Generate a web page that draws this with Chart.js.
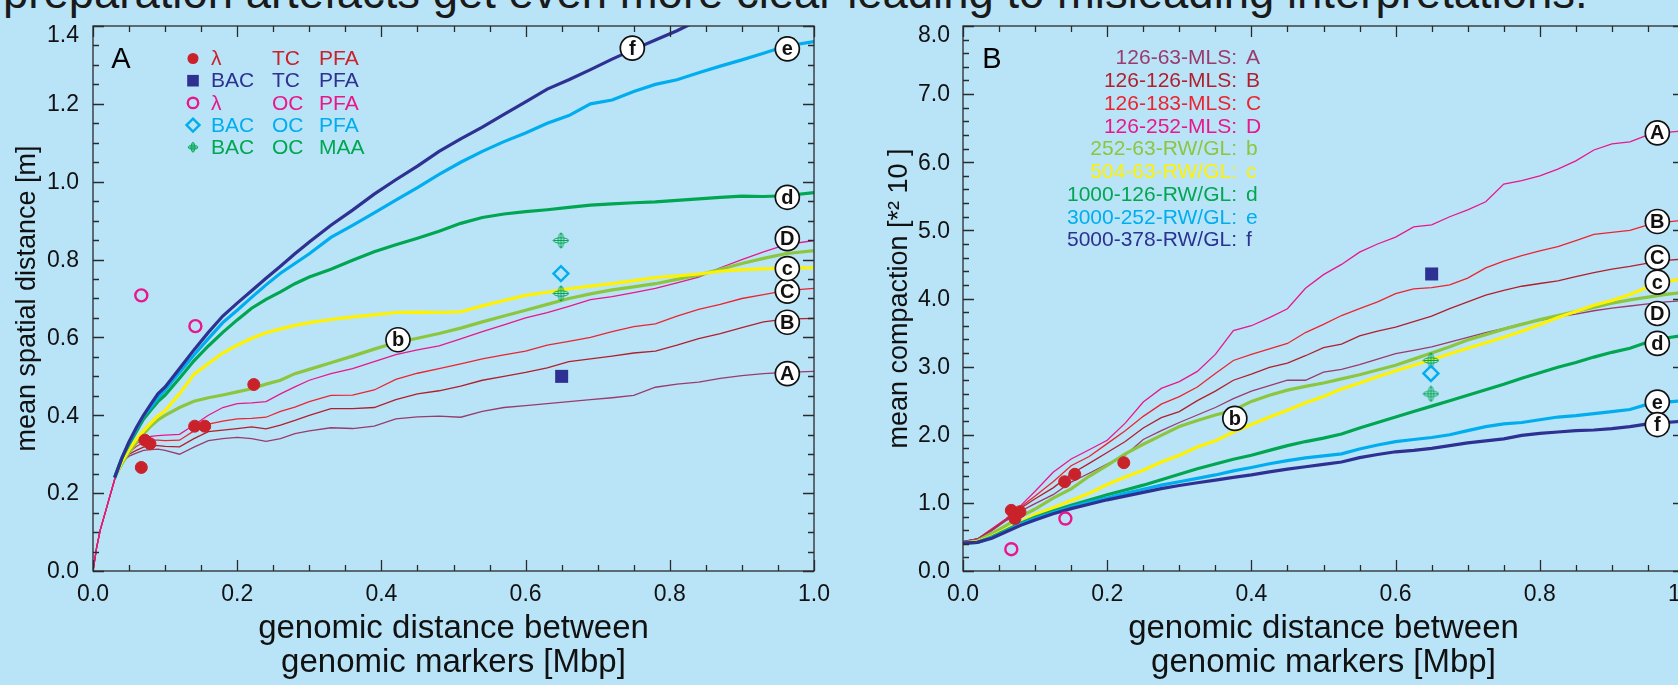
<!DOCTYPE html>
<html>
<head>
<meta charset="utf-8">
<script src="https://cdn.jsdelivr.net/npm/chart.js@4.4.1/dist/chart.umd.min.js"></script>
<style>
  html, body { margin: 0; padding: 0; width: 1678px; height: 685px; overflow: hidden; background: #b9e4f8; }
  #headline { position: absolute; left: 3px; top: -28px; font-family: "Liberation Sans", Arial, sans-serif; font-size: 40px; line-height: normal; color: #1a1a1a; white-space: nowrap; }
  #chartA { position: absolute; left: 0; top: 0; }
  #chartB { position: absolute; left: 860px; top: 0; }
</style>
</head>
<body>
<div id="headline">preparation artefacts get even more clear leading to misleading interpretations.</div>
<canvas id="chartA" width="840" height="685"></canvas>
<canvas id="chartB" width="850" height="685"></canvas>
<script>
// ---- panel A: mean spatial distance ----
const xA = [0, 0.005, 0.01, 0.02, 0.03, 0.04, 0.05, 0.06, 0.07, 0.08, 0.09, 0.1,
  0.12, 0.14, 0.16, 0.18, 0.2, 0.22, 0.24, 0.26, 0.28, 0.3,
  0.33, 0.36, 0.39, 0.42, 0.45, 0.48, 0.51, 0.54, 0.57, 0.6, 0.63, 0.66, 0.69, 0.72,
  0.75, 0.78, 0.81, 0.84, 0.87, 0.9, 0.93, 0.96, 1.0];
const distA = [0, 0.06, 0.105, 0.17, 0.235, 0.28, 0.295, 0.303, 0.31, 0.312, 0.313, 0.31,
  0.30, 0.318, 0.335, 0.34, 0.343, 0.34, 0.333, 0.34, 0.353, 0.36,
  0.368, 0.366, 0.372, 0.391, 0.396, 0.398, 0.395, 0.41, 0.42, 0.425, 0.43, 0.435, 0.44, 0.445,
  0.451, 0.472, 0.48, 0.485, 0.495, 0.502, 0.507, 0.51, 0.513];
const distB = [0, 0.06, 0.105, 0.17, 0.235, 0.28, 0.30, 0.31, 0.318, 0.322, 0.322, 0.32,
  0.319, 0.34, 0.358, 0.362, 0.366, 0.37, 0.365, 0.375, 0.387, 0.40,
  0.417, 0.417, 0.42, 0.44, 0.455, 0.463, 0.475, 0.49, 0.50, 0.51, 0.522, 0.538, 0.545, 0.552,
  0.56, 0.565, 0.58, 0.597, 0.61, 0.625, 0.64, 0.647, 0.649];
const distC = [0, 0.06, 0.105, 0.17, 0.235, 0.285, 0.305, 0.32, 0.33, 0.336, 0.336, 0.335,
  0.336, 0.36, 0.377, 0.385, 0.391, 0.392, 0.395, 0.41, 0.421, 0.435,
  0.451, 0.452, 0.465, 0.492, 0.508, 0.52, 0.532, 0.545, 0.555, 0.565, 0.58, 0.59, 0.60, 0.615,
  0.628, 0.635, 0.655, 0.672, 0.685, 0.70, 0.71, 0.72, 0.726];
const distD = [0, 0.06, 0.105, 0.17, 0.235, 0.29, 0.31, 0.327, 0.34, 0.346, 0.348, 0.349,
  0.351, 0.375, 0.40, 0.42, 0.43, 0.432, 0.435, 0.455, 0.473, 0.49,
  0.507, 0.52, 0.538, 0.556, 0.568, 0.578, 0.596, 0.615, 0.632, 0.65, 0.664, 0.68, 0.697, 0.705,
  0.715, 0.726, 0.74, 0.755, 0.779, 0.80, 0.82, 0.838, 0.849];
const distb = [null, null, null, null, 0.24, 0.275, 0.305, 0.33, 0.352, 0.372, 0.388, 0.40,
  0.42, 0.436, 0.445, 0.452, 0.46, 0.468, 0.48, 0.49, 0.507, 0.518,
  0.535, 0.552, 0.57, 0.587, 0.598, 0.61, 0.624, 0.64, 0.655, 0.67, 0.685, 0.70, 0.712, 0.722,
  0.73, 0.738, 0.749, 0.76, 0.775, 0.79, 0.803, 0.815, 0.823];
const distc = [null, null, null, null, 0.24, 0.28, 0.312, 0.338, 0.36, 0.38, 0.398, 0.412,
  0.455, 0.505, 0.533, 0.56, 0.58, 0.598, 0.612, 0.622, 0.631, 0.638,
  0.646, 0.653, 0.658, 0.664, 0.665, 0.664, 0.666, 0.681, 0.695, 0.708, 0.716, 0.725, 0.732, 0.738,
  0.746, 0.754, 0.758, 0.763, 0.77, 0.774, 0.776, 0.778, 0.779];
const distd = [null, null, null, null, 0.24, 0.29, 0.325, 0.358, 0.39, 0.413, 0.435, 0.452,
  0.495, 0.54, 0.578, 0.613, 0.645, 0.675, 0.698, 0.717, 0.738, 0.755,
  0.775, 0.798, 0.82, 0.838, 0.855, 0.873, 0.893, 0.908, 0.917, 0.923, 0.928, 0.934, 0.94, 0.943,
  0.946, 0.948, 0.952, 0.956, 0.96, 0.963, 0.962, 0.964, 0.972];
const diste = [null, null, null, null, 0.24, 0.29, 0.33, 0.365, 0.398, 0.42, 0.445, 0.465,
  0.51, 0.555, 0.597, 0.638, 0.67, 0.703, 0.735, 0.765, 0.79, 0.815,
  0.857, 0.888, 0.92, 0.953, 0.985, 1.019, 1.05, 1.078, 1.103, 1.125, 1.15, 1.17, 1.2, 1.21,
  1.232, 1.25, 1.262, 1.28, 1.297, 1.313, 1.33, 1.348, 1.36];
const distf = [null, null, null, null, 0.24, 0.29, 0.332, 0.368, 0.40, 0.428, 0.455, 0.473,
  0.52, 0.568, 0.613, 0.655, 0.688, 0.72, 0.752, 0.783, 0.815, 0.845,
  0.888, 0.927, 0.968, 1.005, 1.04, 1.078, 1.11, 1.14, 1.173, 1.205, 1.238, 1.262, 1.288, 1.315,
  1.34, 1.364, 1.388, 1.415, 1.44, 1.47, 1.5, 1.53, 1.56];

// measured points, panel A
const lamTCxA = [0.067, 0.072, 0.079, 0.141, 0.155, 0.223];
const lamTCyA = [0.266, 0.336, 0.327, 0.372, 0.372, 0.479];
const bacTCxA = [0.65], bacTCyA = [0.50];
const lamOCxA = [0.067, 0.142], lamOCyA = [0.708, 0.629];
const bacOCxA = [0.649], bacOCyA = [0.764];
const bacMAAxA = [0.649, 0.649], bacMAAyA = [0.849, 0.713];

// curve tags, panel A
const tagLetters = ['A', 'B', 'C', 'D', 'b', 'c', 'd', 'e', 'f'];
const tagXA = [0.963, 0.963, 0.963, 0.963, 0.423, 0.963, 0.963, 0.963, 0.748];
const tagYA = [0.507, 0.639, 0.719, 0.854, 0.594, 0.777, 0.96, 1.341, 1.343];

// ---- panel B: mean compaction ----
const xB = [0, 0.02, 0.04, 0.06, 0.08, 0.1, 0.125, 0.15, 0.175, 0.2, 0.225, 0.25, 0.275, 0.3,
  0.325, 0.35, 0.375, 0.4, 0.425, 0.45, 0.475, 0.5, 0.525, 0.55, 0.575, 0.6, 0.625, 0.65,
  0.675, 0.7, 0.725, 0.75, 0.775, 0.8, 0.825, 0.85, 0.875, 0.9, 0.925, 0.95, 0.975, 1.0];
const compA = [0.43, 0.47, 0.62, 0.77, 0.96, 1.17, 1.45, 1.645, 1.78, 1.92, 2.17, 2.48, 2.68, 2.78,
  2.93, 3.18, 3.53, 3.6, 3.72, 3.85, 4.15, 4.35, 4.5, 4.68, 4.8, 4.9, 5.05, 5.08,
  5.2, 5.3, 5.42, 5.68, 5.73, 5.8, 5.9, 6.02, 6.18, 6.27, 6.3, 6.4, 6.44, 6.46];
const compB = [0.43, 0.47, 0.61, 0.76, 0.94, 1.1, 1.31, 1.545, 1.68, 1.87, 2.06, 2.27, 2.45, 2.56,
  2.7, 2.9, 3.09, 3.18, 3.26, 3.34, 3.5, 3.62, 3.75, 3.85, 3.95, 4.07, 4.14, 4.16,
  4.2, 4.3, 4.45, 4.55, 4.63, 4.7, 4.76, 4.85, 4.94, 4.97, 5.0, 5.08, 5.12, 5.15];
const compC = [0.43, 0.47, 0.6, 0.75, 0.92, 1.06, 1.22, 1.425, 1.58, 1.74, 1.9, 2.1, 2.25, 2.34,
  2.5, 2.64, 2.8, 2.89, 2.99, 3.05, 3.16, 3.28, 3.33, 3.45, 3.52, 3.58, 3.66, 3.74,
  3.85, 3.95, 4.05, 4.12, 4.18, 4.22, 4.26, 4.32, 4.38, 4.43, 4.47, 4.52, 4.56, 4.58];
const compD = [0.43, 0.47, 0.59, 0.74, 0.88, 0.99, 1.12, 1.305, 1.435, 1.57, 1.7, 1.93, 2.06, 2.18,
  2.29, 2.4, 2.53, 2.64, 2.72, 2.8, 2.8, 2.92, 2.96, 3.03, 3.11, 3.19, 3.24, 3.29,
  3.36, 3.43, 3.5, 3.56, 3.63, 3.68, 3.73, 3.77, 3.82, 3.86, 3.89, 3.92, 3.95, 3.97];
const compb = [0.41, 0.44, 0.55, 0.67, 0.8, 0.91, 1.07, 1.205, 1.39, 1.55, 1.72, 1.86, 1.99, 2.12,
  2.21, 2.29, 2.36, 2.49, 2.58, 2.655, 2.71, 2.76, 2.82, 2.88, 2.95, 3.02, 3.11, 3.2,
  3.29, 3.39, 3.47, 3.55, 3.62, 3.69, 3.75, 3.81, 3.87, 3.93, 3.98, 4.02, 4.06, 4.09];
const compc = [0.41, 0.43, 0.51, 0.615, 0.72, 0.83, 0.93, 1.035, 1.14, 1.27, 1.38, 1.48, 1.6, 1.7,
  1.82, 1.91, 2.04, 2.15, 2.26, 2.36, 2.47, 2.56, 2.67, 2.76, 2.85, 2.94, 3.02, 3.1,
  3.19, 3.27, 3.35, 3.43, 3.52, 3.62, 3.72, 3.81, 3.9, 3.97, 4.06, 4.17, 4.24, 4.3];
const compd = [0.41, 0.42, 0.5, 0.6, 0.7, 0.79, 0.88, 0.965, 1.04, 1.12, 1.19, 1.26, 1.34, 1.42,
  1.5, 1.57, 1.64, 1.7, 1.77, 1.84, 1.9, 1.95, 2.01, 2.1, 2.18, 2.26, 2.34, 2.42,
  2.5, 2.58, 2.66, 2.74, 2.83, 2.91, 2.99, 3.06, 3.14, 3.21, 3.27, 3.36, 3.42, 3.46];
const compe = [0.41, 0.42, 0.49, 0.586, 0.69, 0.77, 0.86, 0.94, 1.01, 1.07, 1.14, 1.2, 1.26, 1.31,
  1.36, 1.41, 1.47, 1.52, 1.575, 1.62, 1.66, 1.69, 1.72, 1.79, 1.85, 1.9, 1.93, 1.96,
  2.0, 2.06, 2.12, 2.16, 2.18, 2.22, 2.26, 2.28, 2.31, 2.34, 2.37, 2.45, 2.48, 2.5];
const compf = [0.41, 0.42, 0.48, 0.576, 0.67, 0.75, 0.84, 0.915, 0.98, 1.045, 1.1, 1.155, 1.21, 1.255,
  1.295, 1.335, 1.375, 1.41, 1.455, 1.495, 1.53, 1.565, 1.6, 1.665, 1.71, 1.75, 1.77, 1.8,
  1.84, 1.88, 1.91, 1.94, 1.99, 2.02, 2.04, 2.06, 2.07, 2.09, 2.12, 2.16, 2.18, 2.2];

const lamTCxB = [0.067, 0.072, 0.079, 0.141, 0.155, 0.223];
const lamTCyB = [0.89, 0.77, 0.87, 1.31, 1.42, 1.59];
const bacTCxB = [0.65], bacTCyB = [4.36];
const lamOCxB = [0.067, 0.142], lamOCyB = [0.32, 0.77];
const bacOCxB = [0.649], bacOCyB = [2.9];
const bacMAAxB = [0.649, 0.649], bacMAAyB = [3.09, 2.6];

const tagXB = [0.963, 0.963, 0.963, 0.963, 0.377, 0.963, 0.963, 0.963, 0.963];
const tagYB = [6.43, 5.13, 4.6, 3.78, 2.24, 4.24, 3.34, 2.48, 2.15];

// legends
const keyCol1 = ['λ', 'BAC', 'λ', 'BAC', 'BAC'];
const keyCol2 = ['TC', 'TC', 'OC', 'OC', 'OC'];
const keyCol3 = ['PFA', 'PFA', 'PFA', 'PFA', 'MAA'];
const runNames = ['126-63-MLS:', '126-126-MLS:', '126-183-MLS:', '126-252-MLS:',
  '252-63-RW/GL:', '504-63-RW/GL:', '1000-126-RW/GL:', '3000-252-RW/GL:', '5000-378-RW/GL:'];
const runLetters = ['A', 'B', 'C', 'D', 'b', 'c', 'd', 'e', 'f'];

// colours
const PURPLE = '#9a3a6d', DARKRED = '#b11f2d', RED = '#ec2430', MAGENTA = '#e9178b';
const LGREEN = '#8cc63f', YELLOW = '#fff200', GREEN = '#00a651', CYAN = '#00adef', NAVY = '#2e3192';
const PTRED = '#c9222a';
const keyColors = [PTRED, NAVY, MAGENTA, CYAN, GREEN];
const runColors = [PURPLE, DARKRED, RED, MAGENTA, LGREEN, YELLOW, GREEN, CYAN, NAVY];

const FONT = '"Liberation Sans", Arial, Helvetica, sans-serif';
Chart.defaults.font.family = FONT;
Chart.defaults.color = '#111';

function series(xs, ys) {
  const out = [];
  for (let i = 0; i < xs.length; i++) if (ys[i] !== null) out.push({ x: xs[i], y: ys[i] });
  return out;
}

function lineSet(xs, ys, color, width) {
  return { data: series(xs, ys), showLine: true, borderColor: color, borderWidth: width,
    pointRadius: 0, pointHoverRadius: 0, fill: false, tension: 0 };
}

function crosshair(size, color) {
  const c = document.createElement('canvas');
  c.width = c.height = size;
  const g = c.getContext('2d');
  const h = size / 2;
  g.strokeStyle = color;
  g.lineWidth = 1;
  g.beginPath(); g.ellipse(h, h, h - 1, h * 0.32, 0, 0, Math.PI * 2); g.stroke();
  g.beginPath(); g.ellipse(h, h, h * 0.32, h - 1, 0, 0, Math.PI * 2); g.stroke();
  g.beginPath(); g.moveTo(1, h); g.lineTo(size - 1, h); g.moveTo(h, 1); g.lineTo(h, size - 1); g.stroke();
  return c;
}
const crossBig = crosshair(17, GREEN);
const crossSmall = crosshair(12, GREEN);

function pointSets(lx, ly, sx, sy, ox, oy, dx, dy, cx, cy) {
  return [
    { data: series(lx, ly), pointStyle: 'circle', pointRadius: 6, pointBackgroundColor: PTRED, pointBorderColor: PTRED, pointBorderWidth: 1 },
    { data: series(sx, sy), pointStyle: 'rect', pointRadius: 9.2, pointBackgroundColor: NAVY, pointBorderColor: NAVY, pointBorderWidth: 0 },
    { data: series(ox, oy), pointStyle: 'circle', pointRadius: 6, pointBackgroundColor: 'rgba(0,0,0,0)', pointBorderColor: MAGENTA, pointBorderWidth: 2.4 },
    { data: series(dx, dy), pointStyle: 'rectRot', pointRadius: 7.5, pointBackgroundColor: 'rgba(0,0,0,0)', pointBorderColor: CYAN, pointBorderWidth: 2.4 },
    { data: series(cx, cy), pointStyle: crossBig, pointRadius: 8 }
  ];
}

function drawTags(chart, xs, ys) {
  const { ctx, scales: { x, y } } = chart;
  ctx.save();
  tagLetters.forEach((t, i) => {
    const px = x.getPixelForValue(xs[i]), py = y.getPixelForValue(ys[i]);
    ctx.beginPath();
    ctx.arc(px, py, 12, 0, Math.PI * 2);
    ctx.fillStyle = '#fff';
    ctx.fill();
    ctx.lineWidth = 1.7;
    ctx.strokeStyle = '#111';
    ctx.stroke();
    ctx.fillStyle = '#111';
    ctx.font = 'bold 20px ' + FONT;
    ctx.textAlign = 'center';
    ctx.textBaseline = 'middle';
    ctx.fillText(t, px, py + 1);
  });
  ctx.restore();
}

// y tick labels from the scale's own ticks; the top one is kept inside the frame
function drawYLabels(chart, pad) {
  const { ctx, chartArea: { top }, scales: { y } } = chart;
  ctx.save();
  ctx.font = '23px ' + FONT;
  ctx.fillStyle = '#111';
  ctx.textAlign = 'right';
  ctx.textBaseline = 'middle';
  y.ticks.forEach(t => {
    const py = Math.max(y.getPixelForValue(t.value), top + 9);
    ctx.fillText(Number(t.value).toFixed(1), y.right - pad, py + 1);
  });
  ctx.restore();
}

// frame with inward ticks on all four sides
function drawFrame(chart, xMinor, xMajor, yMinor, yMajor) {
  const { ctx, chartArea: { left, right, top, bottom }, scales: { x, y } } = chart;
  ctx.save();
  ctx.strokeStyle = '#2a2a2a';
  ctx.lineWidth = 1.3;
  ctx.strokeRect(left, top, right - left, bottom - top);
  ctx.beginPath();
  const nx = Math.round((x.max - x.min) / xMinor);
  for (let i = 0; i <= nx; i++) {
    const v = x.min + i * xMinor;
    const len = Math.abs(v / xMajor - Math.round(v / xMajor)) < 1e-6 ? 11 : 6;
    const px = Math.round(x.getPixelForValue(v)) + 0.5;
    ctx.moveTo(px, bottom); ctx.lineTo(px, bottom - len);
    ctx.moveTo(px, top); ctx.lineTo(px, top + len);
  }
  const ny = Math.round((y.max - y.min) / yMinor);
  for (let i = 0; i <= ny; i++) {
    const v = y.min + i * yMinor;
    const len = Math.abs(v / yMajor - Math.round(v / yMajor)) < 1e-6 ? 11 : 6;
    const py = Math.round(y.getPixelForValue(v)) + 0.5;
    ctx.moveTo(left, py); ctx.lineTo(left + len, py);
    ctx.moveTo(right, py); ctx.lineTo(right - len, py);
  }
  ctx.stroke();
  ctx.restore();
}

function drawKeyA(ctx) {
  ctx.save();
  ctx.fillStyle = '#000';
  ctx.font = '29px ' + FONT;
  ctx.textAlign = 'center';
  ctx.textBaseline = 'middle';
  ctx.fillText('A', 121, 60);
  ctx.font = '21px ' + FONT;
  ctx.textAlign = 'left';
  for (let i = 0; i < 5; i++) {
    const y = 58.5 + i * 22.2, sx = 193;
    ctx.fillStyle = keyColors[i];
    ctx.strokeStyle = keyColors[i];
    ctx.lineWidth = 2.4;
    ctx.beginPath();
    if (i === 0) { ctx.arc(sx, y, 5.5, 0, Math.PI * 2); ctx.fill(); }
    else if (i === 1) { ctx.fillRect(sx - 5.8, y - 5.8, 11.6, 11.6); }
    else if (i === 2) { ctx.arc(sx, y, 5.2, 0, Math.PI * 2); ctx.stroke(); }
    else if (i === 3) { ctx.moveTo(sx - 6.5, y); ctx.lineTo(sx, y - 6.5); ctx.lineTo(sx + 6.5, y); ctx.lineTo(sx, y + 6.5); ctx.closePath(); ctx.stroke(); }
    else { ctx.drawImage(crossSmall, sx - 6, y - 6); }
    ctx.fillText(keyCol1[i], 211, y + 1);
    ctx.fillText(keyCol2[i], 272, y + 1);
    ctx.fillText(keyCol3[i], 319, y + 1);
  }
  ctx.restore();
}

function drawKeyB(ctx) {
  ctx.save();
  ctx.fillStyle = '#000';
  ctx.font = '29px ' + FONT;
  ctx.textAlign = 'center';
  ctx.textBaseline = 'middle';
  ctx.fillText('B', 132, 60);
  ctx.font = '21px ' + FONT;
  for (let i = 0; i < runNames.length; i++) {
    const y = 57.5 + i * 22.75;
    ctx.fillStyle = runColors[i];
    ctx.textAlign = 'right';
    ctx.fillText(runNames[i], 377, y + 1);
    ctx.textAlign = 'left';
    ctx.fillText(runLetters[i], 386, y + 1);
  }
  ctx.restore();
}

const xTitleFont = { size: 33, family: FONT, lineHeight: 1.03 };
const yTitleFont = { size: 27, family: FONT, lineHeight: 1.2 };

function xAxisOpts() {
  return {
    type: 'linear', min: 0, max: 1,
    grid: { display: false, drawTicks: false },
    border: { display: false },
    ticks: { stepSize: 0.2, padding: 10, autoSkip: false, maxRotation: 0, color: '#111',
      font: { size: 23, family: FONT }, callback: v => Number(v).toFixed(1) },
    title: { display: true, text: ['genomic distance between', 'genomic markers [Mbp]'], color: '#111',
      font: xTitleFont, padding: { top: 0, bottom: 5 } },
    afterFit: s => { s.height = 114; }
  };
}

function yAxisOpts(max, step, width, title, titleTop) {
  return {
    type: 'linear', min: 0, max,
    grid: { display: false, drawTicks: false },
    border: { display: false },
    ticks: { stepSize: step, display: false },
    title: { display: true, text: title, color: '#111', font: yTitleFont, padding: { top: titleTop, bottom: 0 } },
    afterFit: s => { s.width = width; }
  };
}

const baseOpts = { responsive: false, animation: false, devicePixelRatio: 1, events: [] };

// panel A
new Chart(document.getElementById('chartA'), {
  type: 'scatter',
  data: {
    datasets: [
      ...pointSets(lamTCxA, lamTCyA, bacTCxA, bacTCyA, lamOCxA, lamOCyA, bacOCxA, bacOCyA, bacMAAxA, bacMAAyA),
      lineSet(xA, distf, NAVY, 3.2),
      lineSet(xA, diste, CYAN, 3.2),
      lineSet(xA, distd, GREEN, 3.2),
      lineSet(xA, distc, YELLOW, 3.2),
      lineSet(xA, distb, LGREEN, 3.2),
      lineSet(xA, distD, MAGENTA, 1.3),
      lineSet(xA, distC, RED, 1.3),
      lineSet(xA, distB, DARKRED, 1.3),
      lineSet(xA, distA, PURPLE, 1.3)
    ]
  },
  options: {
    ...baseOpts,
    layout: { padding: { left: 0, right: 18, top: 26, bottom: 0 } },
    plugins: { legend: { display: false }, tooltip: { enabled: false } },
    scales: {
      x: xAxisOpts(),
      y: yAxisOpts(1.4, 0.2, 93, 'mean spatial distance [m]', 11)
    }
  },
  plugins: [{
    id: 'inkA',
    afterDatasetsDraw(chart) { drawTags(chart, tagXA, tagYA); },
    afterDraw(chart) {
      drawFrame(chart, 0.05, 0.2, 0.05, 0.2);
      drawYLabels(chart, 14);
      drawKeyA(chart.ctx);
    }
  }]
});

// panel B
new Chart(document.getElementById('chartB'), {
  type: 'scatter',
  data: {
    datasets: [
      ...pointSets(lamTCxB, lamTCyB, bacTCxB, bacTCyB, lamOCxB, lamOCyB, bacOCxB, bacOCyB, bacMAAxB, bacMAAyB),
      lineSet(xB, compf, NAVY, 3.2),
      lineSet(xB, compe, CYAN, 3.2),
      lineSet(xB, compd, GREEN, 3.2),
      lineSet(xB, compc, YELLOW, 3.2),
      lineSet(xB, compb, LGREEN, 3.2),
      lineSet(xB, compD, PURPLE, 1.3),
      lineSet(xB, compC, DARKRED, 1.3),
      lineSet(xB, compB, RED, 1.3),
      lineSet(xB, compA, MAGENTA, 1.3)
    ]
  },
  options: {
    ...baseOpts,
    layout: { padding: { left: 0, right: 18, top: 26, bottom: 0 } },
    plugins: { legend: { display: false }, tooltip: { enabled: false } },
    scales: {
      x: xAxisOpts(),
      y: yAxisOpts(8, 1, 103, 'mean compaction [*² 10 ]', 23)
    }
  },
  plugins: [{
    id: 'inkB',
    afterDatasetsDraw(chart) { drawTags(chart, tagXB, tagYB); },
    afterDraw(chart) {
      drawFrame(chart, 0.05, 0.2, 0.2, 1);
      drawYLabels(chart, 13);
      drawKeyB(chart.ctx);
    }
  }]
});

// headline: fit width to the visible line and keep its baseline near y = 8
const head = document.getElementById('headline');
const fs = 40 * 1585 / head.offsetWidth;
head.style.fontSize = fs + 'px';
head.style.top = (8 - 0.905 * fs) + 'px';
</script>
</body>
</html>
